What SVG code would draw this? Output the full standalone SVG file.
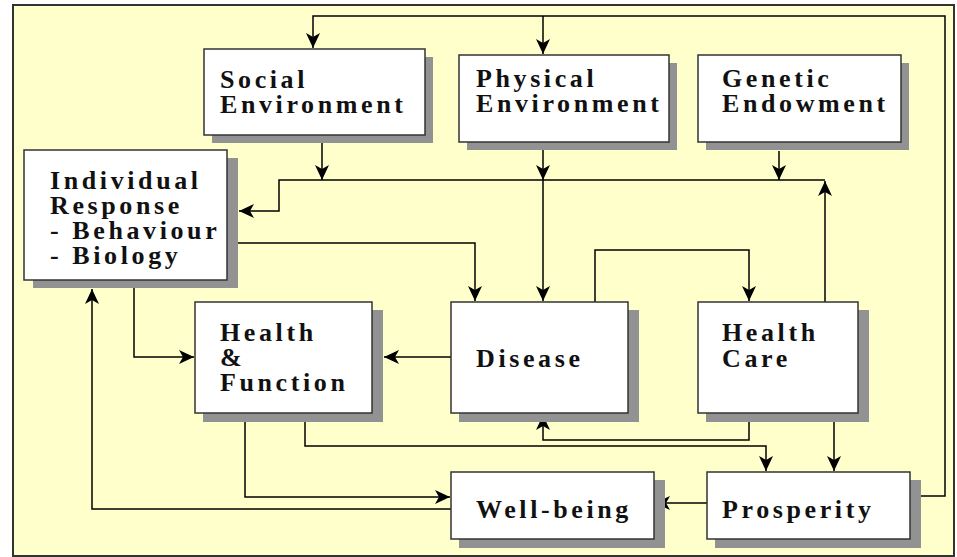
<svg xmlns="http://www.w3.org/2000/svg" width="957" height="557" viewBox="0 0 957 557">
  <defs>
    <marker id="arrow" markerUnits="userSpaceOnUse" markerWidth="20" markerHeight="18" viewBox="-17 -9 19 18" refX="0" refY="0" orient="auto">
      <path d="M0,0 L-15,-7 L-11,0 L-15,7 Z" fill="#000"/>
    </marker>
    <style>
      .frame { fill: #FFFFCC; stroke: #333; stroke-width: 2; }
      .shadow { fill: #929292; }
      .box { fill: #fff; stroke: #333; stroke-width: 1.5; }
      .lbl { font-family: "Liberation Serif", "Times New Roman", serif; font-weight: bold; font-size: 26px; letter-spacing: 3.6px; fill: #111; }
      .conn path { fill: none; stroke: #000; stroke-width: 1.5; marker-end: url(#arrow); }
    </style>
  </defs>

  <rect x="0" y="0" width="957" height="557" fill="#fff"/>
  <rect class="frame" x="13" y="5" width="941" height="551"/>

  <!-- connectors -->
  <g id="connectors" class="conn">
    <path d="M910,496 H945 V16 H313 V48"/>
    <path d="M543,16 V54"/>
    <path d="M322,143 V180"/>
    <path d="M543,148 V180"/>
    <path d="M543,180 V301"/>
    <path d="M779,151 V180"/>
    <path d="M825,302 V181"/>
    <path d="M825,180 H279 V211 H239"/>
    <path d="M237,243 H475 V301"/>
    <path d="M595,302 V250 H749 V301"/>
    <path d="M134,288 V357 H194"/>
    <path d="M451,357 H384"/>
    <path d="M749,421 V440 H543 V415"/>
    <path d="M305,421 V446 H766 V471"/>
    <path d="M834,421 V471"/>
    <path d="M245,421 V497 H450"/>
    <path d="M451,509 H92 V289"/>
    <path d="M707,503 H655"/>
  </g>

  <g id="social">
    <rect class="shadow" x="212" y="57" width="221" height="86"/>
    <rect class="box" x="204" y="49" width="221" height="86"/>
    <text class="lbl" x="220" y="88">Social<tspan x="220" dy="25">Environment</tspan></text>
  </g>

  <g id="physical">
    <rect class="shadow" x="467" y="63" width="210" height="87"/>
    <rect class="box" x="459" y="55" width="210" height="87"/>
    <text class="lbl" x="476" y="87">Physical<tspan x="476" dy="25">Environment</tspan></text>
  </g>

  <g id="genetic">
    <rect class="shadow" x="706" y="63" width="203" height="87"/>
    <rect class="box" x="698" y="55" width="203" height="87"/>
    <text class="lbl" x="722" y="87">Genetic<tspan x="722" dy="25">Endowment</tspan></text>
  </g>

  <g id="individual">
    <rect class="shadow" x="33" y="158" width="205" height="130"/>
    <rect class="box" x="24" y="150" width="203" height="130"/>
    <text class="lbl" x="50" y="189">Individual<tspan x="50" dy="25">Response</tspan><tspan x="50" dy="25">- Behaviour</tspan><tspan x="50" dy="25">- Biology</tspan></text>
  </g>

  <g id="health-function">
    <rect class="shadow" x="203" y="310" width="180" height="112"/>
    <rect class="box" x="195" y="302" width="177" height="111"/>
    <text class="lbl" x="220" y="341">Health<tspan x="220" dy="25">&amp;</tspan><tspan x="220" dy="25">Function</tspan></text>
  </g>

  <g id="disease">
    <rect class="shadow" x="459" y="310" width="180" height="112"/>
    <rect class="box" x="451" y="302" width="177" height="111"/>
    <text class="lbl" x="476" y="367">Disease</text>
  </g>

  <g id="health-care">
    <rect class="shadow" x="706" y="310" width="163" height="112"/>
    <rect class="box" x="698" y="302" width="160" height="111"/>
    <text class="lbl" x="722" y="341">Health<tspan x="722" dy="26">Care</tspan></text>
  </g>

  <g id="well-being">
    <rect class="shadow" x="459" y="480" width="206" height="68"/>
    <rect class="box" x="451" y="472" width="203" height="67"/>
    <text class="lbl" x="476" y="518">Well-being</text>
  </g>

  <g id="prosperity">
    <rect class="shadow" x="715" y="480" width="206" height="68"/>
    <rect class="box" x="707" y="472" width="203" height="67"/>
    <text class="lbl" x="722" y="518">Prosperity</text>
  </g>
</svg>
